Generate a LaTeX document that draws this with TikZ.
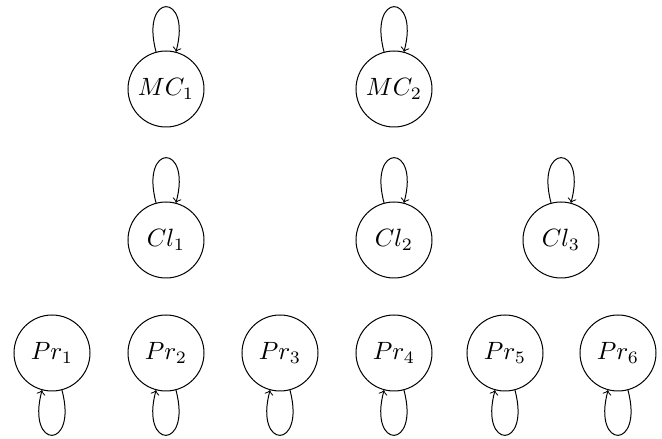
\documentclass[tikz,border=0pt]{standalone}
\usetikzlibrary{arrows}
\begin{document}
\begin{tikzpicture}[x=0.4pt,y=-0.4pt,
  state/.style={circle,draw,minimum size=30.4pt,inner sep=0pt},
  every loop/.style={->,draw}]
\useasboundingbox (0,0) rectangle (662,439);
\node[state] (MC1) at (166,89) {$MC_1$};
\node[state] (MC2) at (394,89) {$MC_2$};
\node[state] (Cl1) at (166,240) {$Cl_1$};
\node[state] (Cl2) at (394,240) {$Cl_2$};
\node[state] (Cl3) at (561,240) {$Cl_3$};
\node[state] (Pr1) at (52,353) {$Pr_1$};
\node[state] (Pr2) at (166,353) {$Pr_2$};
\node[state] (Pr3) at (280,353) {$Pr_3$};
\node[state] (Pr4) at (394,353) {$Pr_4$};
\node[state] (Pr5) at (505,353) {$Pr_5$};
\node[state] (Pr6) at (618,353) {$Pr_6$};
\foreach \n in {MC1,MC2,Cl1,Cl2,Cl3}
  \path (\n) edge[loop above] (\n);
\foreach \n in {Pr1,Pr2,Pr3,Pr4,Pr5,Pr6}
  \path (\n) edge[loop below] (\n);
\end{tikzpicture}
\end{document}
